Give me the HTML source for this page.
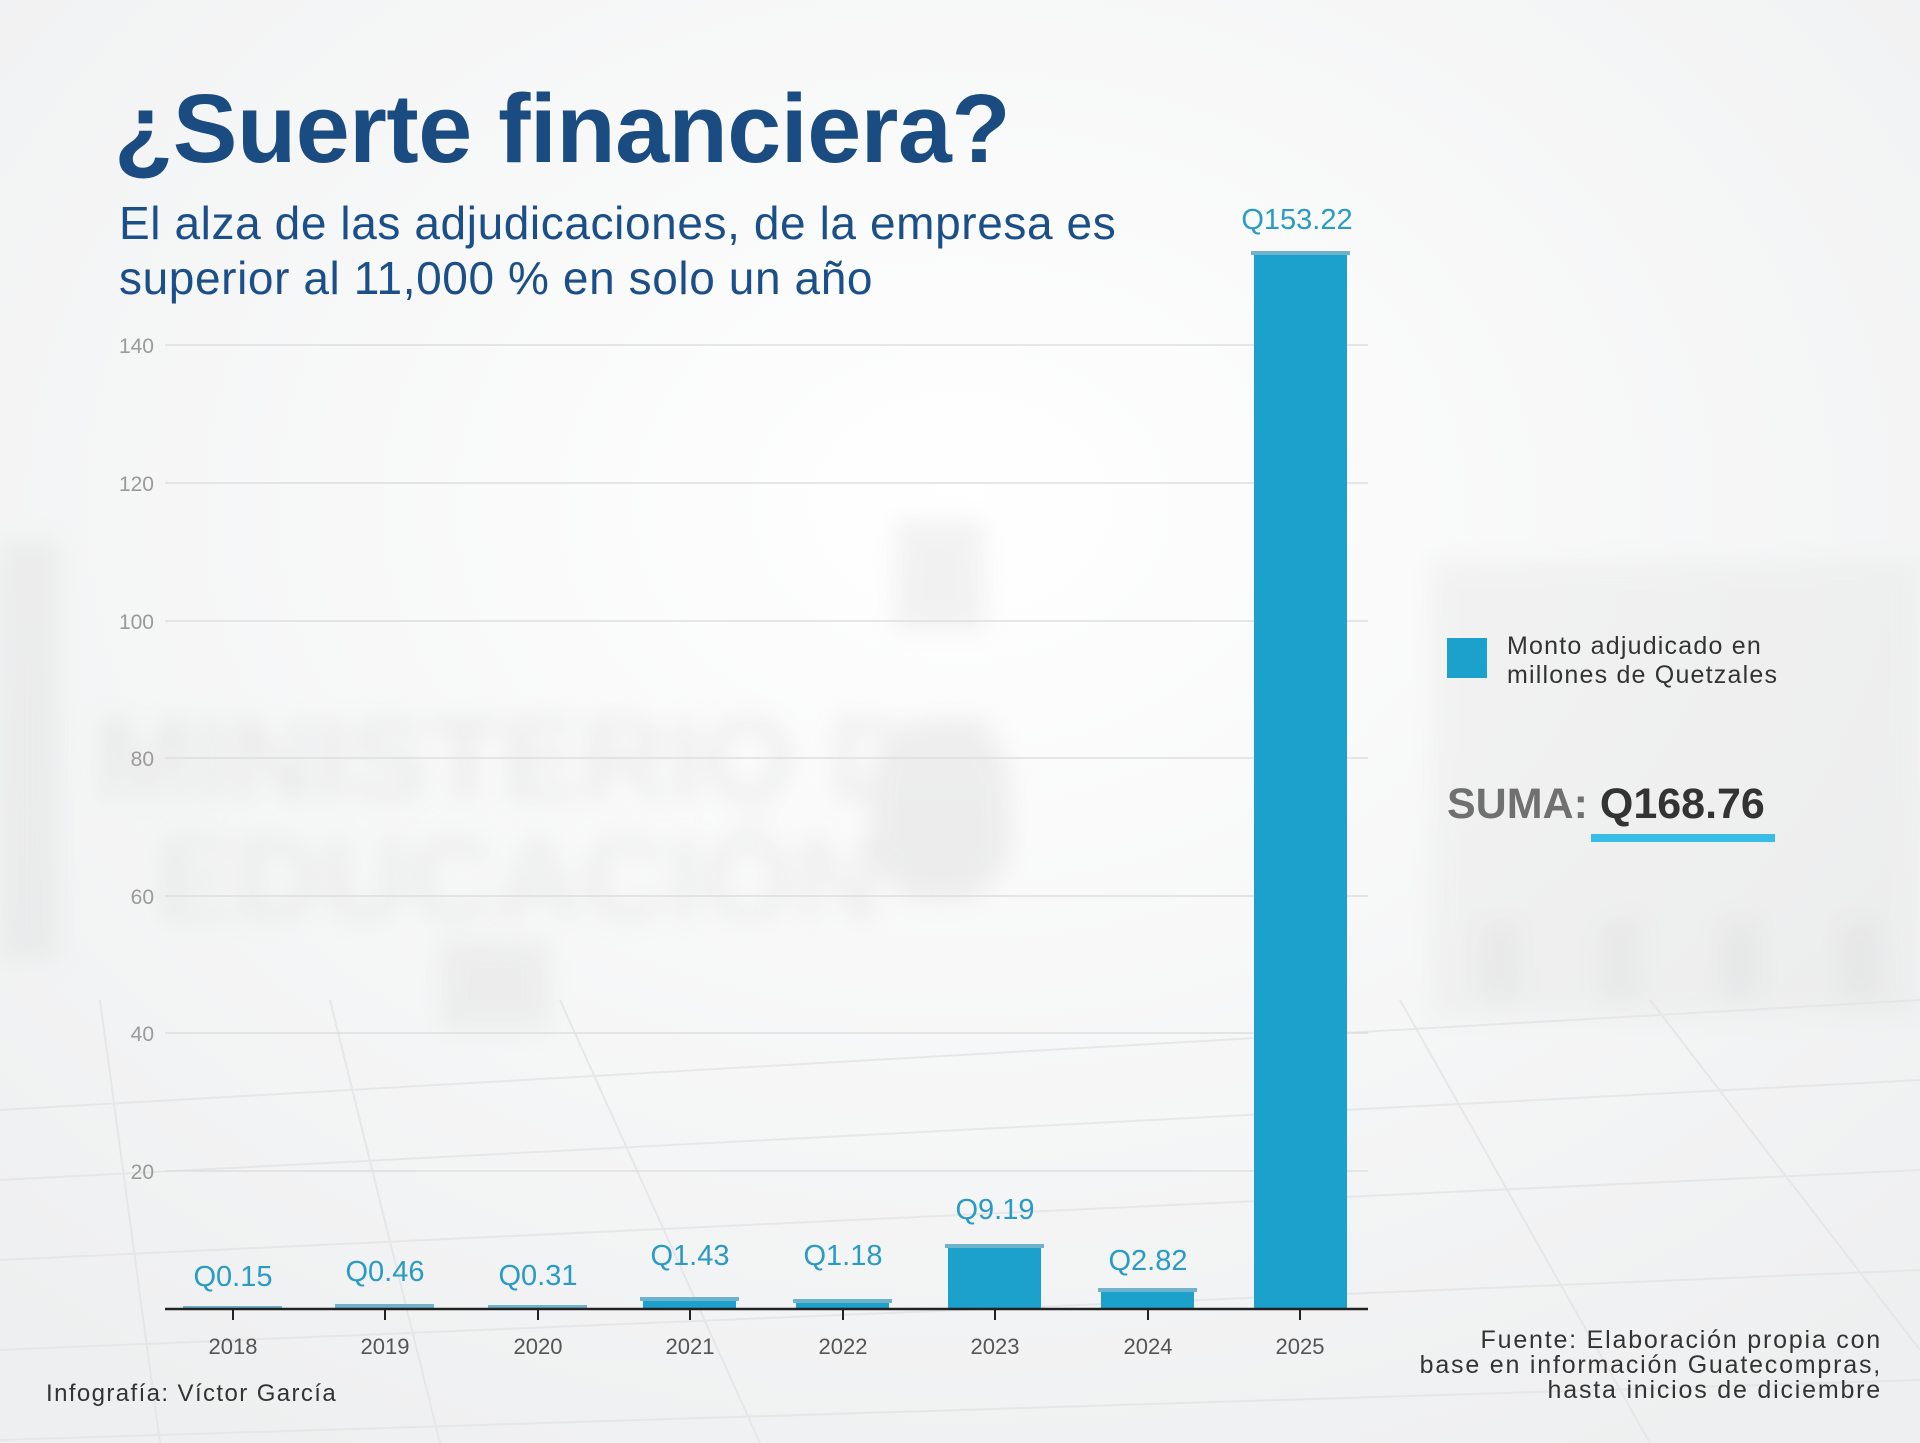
<!DOCTYPE html>
<html><head><meta charset="utf-8"><style>
html,body{margin:0;padding:0}
body{width:1920px;height:1443px;overflow:hidden;background:#f5f6f7;position:relative;font-family:"Liberation Sans",sans-serif}
</style></head><body>
<svg width="1920" height="1443" viewBox="0 0 1920 1443" xmlns="http://www.w3.org/2000/svg" style="position:absolute;left:0;top:0">
<defs>
<filter id="bl" x="-20%" y="-20%" width="140%" height="140%"><feGaussianBlur stdDeviation="12"/></filter>
<radialGradient id="bg" cx="0.5" cy="0.35" r="0.75"><stop offset="0" stop-color="#ffffff"/><stop offset="1" stop-color="#eeeff0"/></radialGradient>
</defs>
<rect width="1920" height="1443" fill="url(#bg)"/>
<g filter="url(#bl)" opacity="0.3">
<rect x="0" y="540" width="60" height="420" fill="#d8d8d8"/>
<text x="95" y="800" font-size="120" font-weight="bold" fill="#cfcfcf" font-family="Liberation Sans">MINISTERIO DE</text>
<text x="155" y="920" font-size="120" font-weight="bold" fill="#d3d3d3" font-family="Liberation Sans">EDUCACIÓN</text>
<rect x="870" y="720" width="140" height="180" rx="60" fill="#cfcfcf"/>
<rect x="895" y="520" width="90" height="110" fill="#d6d6d6"/>
<rect x="440" y="940" width="110" height="90" fill="#d8d8d8"/>
<rect x="1430" y="560" width="490" height="460" fill="#e2e2e2"/>
<rect x="1480" y="920" width="40" height="80" fill="#cccccc"/>
<rect x="1600" y="920" width="40" height="80" fill="#cccccc"/>
<rect x="1720" y="920" width="40" height="80" fill="#cccccc"/>
<rect x="1840" y="920" width="40" height="80" fill="#cccccc"/>
</g>
<g stroke="#e3e4e6" stroke-width="2" fill="none" opacity="0.8">
<path d="M0 1110 L1920 1000 M0 1180 L1920 1080 M0 1260 L1920 1170 M0 1350 L1920 1270 M0 1440 L1920 1380"/>
<path d="M100 1000 L160 1443 M330 1000 L440 1443 M560 1000 L760 1443 M1400 1000 L1650 1443 M1650 1000 L1920 1350"/>
</g>
<g stroke="#dedede" stroke-width="1.5">
<line x1="165" y1="1171" x2="1368" y2="1171"/>
<line x1="165" y1="1033" x2="1368" y2="1033"/>
<line x1="165" y1="896" x2="1368" y2="896"/>
<line x1="165" y1="758" x2="1368" y2="758"/>
<line x1="165" y1="621" x2="1368" y2="621"/>
<line x1="165" y1="483" x2="1368" y2="483"/>
<line x1="165" y1="345" x2="1368" y2="345"/>
</g>
<g fill="#9a9a9a" font-size="21" text-anchor="end" font-family="Liberation Sans">
<text x="154" y="1179">20</text><text x="154" y="1041">40</text><text x="154" y="904">60</text>
<text x="154" y="766">80</text><text x="154" y="629">100</text><text x="154" y="491">120</text><text x="154" y="353">140</text>
</g>
<g fill="#1ba1cc">
<rect x="186" y="1308" width="93" height="1"/>
<rect x="338" y="1306" width="93" height="3"/>
<rect x="491" y="1307" width="93" height="2"/>
<rect x="643" y="1299" width="93" height="10"/>
<rect x="796" y="1301" width="93" height="8"/>
<rect x="948" y="1246" width="93" height="63"/>
<rect x="1101" y="1290" width="93" height="19"/>
<rect x="1254" y="253" width="93" height="1056"/>
</g>
<g fill="#6fb2cc">
<rect x="183" y="1306" width="99" height="3"/>
<rect x="335" y="1304" width="99" height="4"/>
<rect x="488" y="1305" width="99" height="4"/>
<rect x="640" y="1297" width="99" height="4"/>
<rect x="793" y="1299" width="99" height="4"/>
<rect x="945" y="1244" width="99" height="4"/>
<rect x="1098" y="1288" width="99" height="4"/>
<rect x="1251" y="251" width="99" height="4"/>
</g>
<line x1="165" y1="1309" x2="1368" y2="1309" stroke="#222" stroke-width="2.5"/>
<g stroke="#222" stroke-width="2">
<line x1="233" y1="1309" x2="233" y2="1320"/><line x1="385" y1="1309" x2="385" y2="1320"/>
<line x1="538" y1="1309" x2="538" y2="1320"/><line x1="690" y1="1309" x2="690" y2="1320"/>
<line x1="843" y1="1309" x2="843" y2="1320"/><line x1="995" y1="1309" x2="995" y2="1320"/>
<line x1="1148" y1="1309" x2="1148" y2="1320"/><line x1="1300" y1="1309" x2="1300" y2="1320"/>
</g>
<g fill="#555" font-size="22" text-anchor="middle" font-family="Liberation Sans">
<text x="233" y="1354">2018</text><text x="385" y="1354">2019</text><text x="538" y="1354">2020</text>
<text x="690" y="1354">2021</text><text x="843" y="1354">2022</text><text x="995" y="1354">2023</text>
<text x="1148" y="1354">2024</text><text x="1300" y="1354">2025</text>
</g>
<g fill="#2a9bc4" font-size="29" text-anchor="middle" font-family="Liberation Sans">
<text x="233" y="1286">Q0.15</text><text x="385" y="1281">Q0.46</text><text x="538" y="1285">Q0.31</text>
<text x="690" y="1265">Q1.43</text><text x="843" y="1265">Q1.18</text><text x="995" y="1219">Q9.19</text>
<text x="1148" y="1270">Q2.82</text><text x="1297" y="229">Q153.22</text>
</g>
</svg>
<div style="position:absolute;left:114px;top:80px;font-size:97px;font-weight:bold;color:#1a4c82;letter-spacing:-0.5px;line-height:1;white-space:nowrap">¿Suerte financiera?</div>
<div style="position:absolute;left:119px;top:196px;font-size:46px;color:#1b4f8a;line-height:55px;letter-spacing:0.6px;white-space:nowrap">El alza de las adjudicaciones, de la empresa es<br>superior al 11,000 % en solo un año</div>
<div style="position:absolute;left:1447px;top:638px;width:40px;height:40px;background:#1ba1cc"></div>
<div style="position:absolute;left:1507px;top:632px;font-size:25px;color:#333;line-height:29px;letter-spacing:1.2px;white-space:nowrap">Monto adjudicado en<br>millones de Quetzales</div>
<div style="position:absolute;left:1447px;top:780px;font-size:43px;font-weight:bold;line-height:48px;white-space:nowrap"><span style="color:#707070">SUMA: </span><span style="color:#333">Q168.76</span></div>
<div style="position:absolute;left:1591px;top:834px;width:184px;height:8px;background:#38bde8"></div>
<div style="position:absolute;right:38px;top:1328px;font-size:25px;color:#333;line-height:25px;text-align:right;letter-spacing:1.8px;white-space:nowrap">Fuente: Elaboración propia con<br>base en información Guatecompras,<br>hasta inicios de diciembre</div>
<div style="position:absolute;left:46px;top:1380px;font-size:24px;color:#333;letter-spacing:1.4px;white-space:nowrap">Infografía: Víctor García</div>
</body></html>
